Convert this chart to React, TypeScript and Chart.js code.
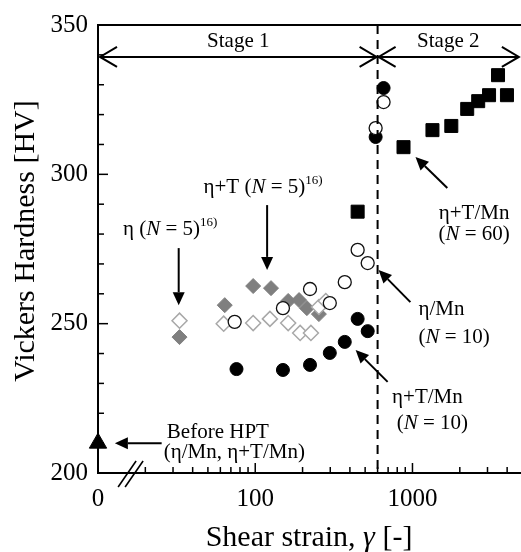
import React, { useEffect, useRef } from 'react';
import { Chart, registerables } from 'chart.js';

Chart.register(...registerables);

const FONT = "'Liberation Serif', 'Times New Roman', serif";

// ---- data (shear strain γ, Vickers hardness HV) ----
const etaX = [33, 63, 97, 124, 162, 193, 226, 254, 281];
const etaY = [251, 250, 250.2, 251.6, 250.2, 246.9, 246.9, 255.6, 257.6];
const etaTX = [33, 64, 97, 126, 162, 190, 213, 254];
const etaTY = [245.5, 256.2, 262.6, 261.9, 257.6, 257.9, 255.2, 253.2];
const etaMnX = [74, 150, 223, 298, 371, 448, 519, 583, 655];
const etaMnY = [250.6, 255.2, 261.6, 256.9, 263.9, 274.7, 270.3, 315.5, 324.2];
const etaTMn10X = [76, 150, 223, 298, 371, 448, 519, 583, 655];
const etaTMn10Y = [234.8, 234.5, 236.2, 240.2, 243.9, 251.6, 247.5, 312.5, 328.9];
const etaTMn60X = [448, 877, 1340, 1766, 2229, 2618, 3069, 3500, 3990];
const etaTMn60Y = [287.5, 309.1, 314.8, 316.2, 321.9, 324.5, 326.5, 333.2, 326.5];
const beforeX = [10]; // γ = 0 is drawn at the left end of the broken axis
const beforeY = [210];

// ---- axes ----
const X_MIN = 10;
const X_MAX = 4900;
const Y_MIN = 200;
const Y_MAX = 350;
const X_LABEL_TICKS = [10, 100, 1000];
const X_MINOR_TICKS = [20, 30, 40, 50, 60, 70, 80, 90, 200, 300, 400, 500, 600, 700, 800, 900, 2000, 3000, 4000];
const X_MAJOR_TICKS = [100, 1000];
const Y_MINOR_TICKS = [210, 220, 230, 240, 260, 270, 280, 290, 310, 320, 330, 340];
const Y_MAJOR_TICKS = [250, 300];
const STAGE_BOUNDARY = 600;

const pts = (xs: number[], ys: number[]) => xs.map((x, i) => ({ x, y: ys[i] }));

type Run = [string, string];

function drawRuns(ctx: CanvasRenderingContext2D, parts: Run[], x: number, y: number, align: string, size: number) {
  const fonts = parts.map(([, s]) =>
    s === 's' ? `${Math.round(size * 0.64)}px ${FONT}` : `${s === 'i' ? 'italic ' : ''}${size}px ${FONT}`
  );
  const widths = parts.map(([t], i) => {
    ctx.font = fonts[i];
    return ctx.measureText(t).width;
  });
  const total = widths.reduce((a, b) => a + b, 0);
  let cx = align === 'center' ? x - total / 2 : align === 'right' ? x - total : x;
  ctx.textAlign = 'left';
  ctx.textBaseline = 'middle';
  parts.forEach(([t, s], i) => {
    ctx.font = fonts[i];
    ctx.fillText(t, cx, s === 's' ? y - size * 0.33 : y);
    cx += widths[i];
  });
}

function line(ctx: CanvasRenderingContext2D, x1: number, y1: number, x2: number, y2: number) {
  ctx.beginPath();
  ctx.moveTo(x1, y1);
  ctx.lineTo(x2, y2);
  ctx.stroke();
}

function filledArrow(ctx: CanvasRenderingContext2D, x1: number, y1: number, x2: number, y2: number) {
  const ang = Math.atan2(y2 - y1, x2 - x1);
  const hl = 13, hw = 6;
  const bx = x2 - hl * Math.cos(ang), by = y2 - hl * Math.sin(ang);
  line(ctx, x1, y1, bx, by);
  ctx.beginPath();
  ctx.moveTo(x2, y2);
  ctx.lineTo(bx + hw * Math.sin(ang), by - hw * Math.cos(ang));
  ctx.lineTo(bx - hw * Math.sin(ang), by + hw * Math.cos(ang));
  ctx.closePath();
  ctx.fill();
}

function openHead(ctx: CanvasRenderingContext2D, x: number, y: number, dir: number) {
  ctx.beginPath();
  ctx.moveTo(x - dir * 17, y - 10);
  ctx.lineTo(x, y);
  ctx.lineTo(x - dir * 17, y + 10);
  ctx.stroke();
}

const overlay = {
  id: 'overlay',
  afterDraw(chart: any) {
    const ctx: CanvasRenderingContext2D = chart.ctx;
    const xs = chart.scales.x, ys = chart.scales.y;
    const X = (v: number) => xs.getPixelForValue(v);
    const Y = (v: number) => ys.getPixelForValue(v);
    const { left, right, top, bottom } = chart.chartArea;
    ctx.save();
    ctx.strokeStyle = '#000';
    ctx.fillStyle = '#000';
    ctx.lineWidth = 2;

    // top frame line
    line(ctx, left - 1, top, right, top);

    // inner ticks
    ctx.lineWidth = 1.5;
    Y_MINOR_TICKS.forEach(v => line(ctx, left, Y(v), left + 6, Y(v)));
    Y_MAJOR_TICKS.forEach(v => line(ctx, left, Y(v), left + 10, Y(v)));
    X_MINOR_TICKS.forEach(v => line(ctx, X(v), bottom, X(v), bottom - 6));
    X_MAJOR_TICKS.forEach(v => line(ctx, X(v), bottom, X(v), bottom - 10));

    // axis break marks
    const bxc = X(16);
    ctx.lineWidth = 1.6;
    line(ctx, bxc - 12, bottom + 14, bxc + 6, bottom - 12);
    line(ctx, bxc - 5, bottom + 14, bxc + 13, bottom - 12);

    // stage boundary
    ctx.lineWidth = 2;
    ctx.setLineDash([9, 6]);
    line(ctx, X(STAGE_BOUNDARY), top, X(STAGE_BOUNDARY), bottom);
    ctx.setLineDash([]);

    // stage arrows
    const sy = Y(339.3);
    const xb = X(STAGE_BOUNDARY);
    line(ctx, left + 2, sy, xb - 1, sy);
    openHead(ctx, left + 2, sy, -1);
    openHead(ctx, xb - 1, sy, 1);
    line(ctx, xb + 1, sy, X(4750), sy);
    openHead(ctx, xb + 1, sy, -1);
    openHead(ctx, X(4750), sy, 1);
    drawRuns(ctx, [['Stage 1', '']], X(78), Y(344.6), 'center', 21);
    drawRuns(ctx, [['Stage 2', '']], X(1690), Y(344.6), 'center', 21);

    // annotations
    ctx.lineWidth = 2;
    drawRuns(ctx, [['η+T (', ''], ['N', 'i'], [' = 5)', ''], ['16)', 's']], X(46.9), Y(295.7), 'left', 21);
    filledArrow(ctx, X(119), Y(289.7), X(119), Y(268));
    drawRuns(ctx, [['η (', ''], ['N', 'i'], [' = 5)', ''], ['16)', 's']], X(14.4), Y(281.4), 'left', 21);
    filledArrow(ctx, X(32.6), Y(275.3), X(32.6), Y(256.2));

    drawRuns(ctx, [['η+T/Mn', '']], X(2466), Y(287), 'center', 21);
    drawRuns(ctx, [['(', ''], ['N', 'i'], [' = 60)', '']], X(2466), Y(279.7), 'center', 21);
    filledArrow(ctx, X(1666), Y(295.4), X(1045), Y(305.8));

    drawRuns(ctx, [['η/Mn', '']], X(1091), Y(254.6), 'left', 21);
    drawRuns(ctx, [['(', ''], ['N', 'i'], [' = 10)', '']], X(1091), Y(245.5), 'left', 21);
    filledArrow(ctx, X(970), Y(257.2), X(609), Y(268));

    drawRuns(ctx, [['η+T/Mn', '']], X(1245), Y(225.4), 'center', 21);
    drawRuns(ctx, [['(', ''], ['N', 'i'], [' = 10)', '']], X(1339), Y(216.7), 'center', 21);
    filledArrow(ctx, X(695), Y(230.5), X(435), Y(241.2));

    drawRuns(ctx, [['Before HPT', '']], X(27.4), Y(213.7), 'left', 21);
    drawRuns(ctx, [['(η/Mn, η+T/Mn)', '']], X(26.2), Y(207), 'left', 21);
    filledArrow(ctx, X(25.4), Y(210), X(12.8), Y(210));

    // axis titles
    ctx.save();
    ctx.translate(26, 241);
    ctx.rotate(-Math.PI / 2);
    drawRuns(ctx, [['Vickers Hardness [HV]', '']], 0, 0, 'center', 30);
    ctx.restore();
    drawRuns(ctx, [['Shear strain, ', ''], ['γ', 'i'], [' [-]', '']], 309, 538, 'center', 30);

    ctx.restore();
  },
};

export default function App() {
  const ref = useRef<HTMLCanvasElement>(null);
  useEffect(() => {
    if (!ref.current) return;
    const tickFont = { family: FONT, size: 25 };
    const chart = new Chart(ref.current, {
      type: 'scatter',
      data: {
        datasets: [
          {
            label: 'η/Mn (N = 10)',
            data: pts(etaMnX, etaMnY),
            pointStyle: 'circle',
            pointRadius: 6.5,
            backgroundColor: '#ffffff',
            borderColor: '#111111',
            borderWidth: 1.3,
            clip: false,
          },
          {
            label: 'η+T/Mn (N = 10)',
            data: pts(etaTMn10X, etaTMn10Y),
            pointStyle: 'circle',
            pointRadius: 6.5,
            backgroundColor: '#000000',
            borderColor: '#000000',
            borderWidth: 1,
            clip: false,
          },
          {
            label: 'η (N = 5)',
            data: pts(etaX, etaY),
            pointStyle: 'rectRot',
            pointRadius: 7.5,
            backgroundColor: '#ffffff',
            borderColor: '#a8a8a8',
            borderWidth: 1.5,
            clip: false,
          },
          {
            label: 'η+T (N = 5)',
            data: pts(etaTX, etaTY),
            pointStyle: 'rectRot',
            pointRadius: 7.5,
            backgroundColor: '#7f7f7f',
            borderColor: '#7f7f7f',
            borderWidth: 1,
            clip: false,
          },
          {
            label: 'η+T/Mn (N = 60)',
            data: pts(etaTMn60X, etaTMn60Y),
            pointStyle: 'rect',
            pointRadius: 9.2,
            backgroundColor: '#000000',
            borderColor: '#000000',
            borderWidth: 1,
            clip: false,
          },
          {
            label: 'Before HPT',
            data: pts(beforeX, beforeY),
            pointStyle: 'triangle',
            pointRadius: 10,
            backgroundColor: '#000000',
            borderColor: '#000000',
            borderWidth: 1,
            clip: false,
          },
        ],
      } as any,
      options: {
        responsive: false,
        animation: false,
        devicePixelRatio: 1,
        events: [],
        layout: { autoPadding: false, padding: { top: 25, right: 0, bottom: 0, left: 0 } },
        plugins: { legend: { display: false }, tooltip: { enabled: false } },
        scales: {
          x: {
            type: 'logarithmic',
            min: X_MIN,
            max: X_MAX,
            grid: { display: false, drawTicks: false },
            border: { display: true, color: '#000', width: 2 },
            ticks: {
              font: tickFont,
              color: '#000',
              padding: 11,
              autoSkip: false,
              maxRotation: 0,
              callback: (v: any) => (Number(v) === 10 ? '0' : String(v)),
            },
            afterBuildTicks: (s: any) => {
              s.ticks = X_LABEL_TICKS.map(v => ({ value: v }));
            },
            afterFit: (s: any) => {
              s.height = 79;
              s.paddingLeft = 0;
              s.paddingRight = 0;
            },
          },
          y: {
            type: 'linear',
            min: Y_MIN,
            max: Y_MAX,
            grid: { display: false, drawTicks: false },
            border: { display: true, color: '#000', width: 2 },
            ticks: { font: tickFont, color: '#000', padding: 10, stepSize: 50 },
            afterFit: (s: any) => {
              s.width = 98;
              s.paddingTop = 0;
              s.paddingBottom = 0;
            },
          },
        },
      } as any,
      plugins: [overlay],
    });
    return () => chart.destroy();
  }, []);
  return (
    <div style={{ position: 'fixed', left: 0, top: 0, width: 521, height: 552, background: '#fff' }}>
      <canvas ref={ref} width={521} height={552} style={{ display: 'block' }} />
    </div>
  );
}
